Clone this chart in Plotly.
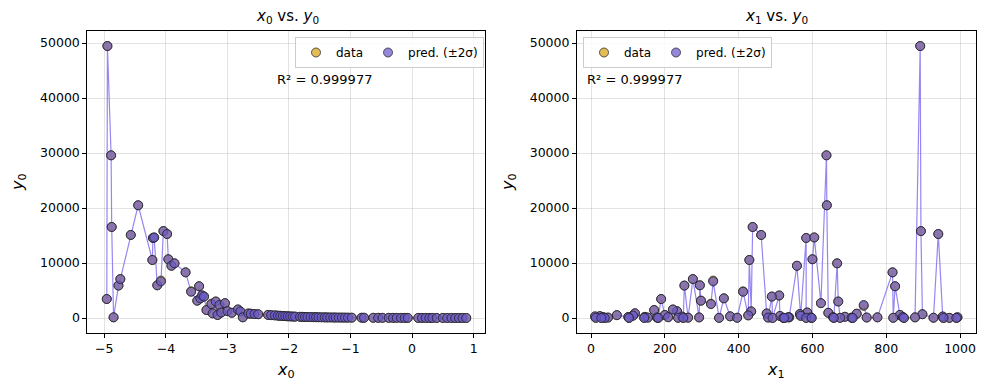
import numpy as np
import plotly.graph_objects as go

# ---- data: each sample has (x0, x1, y0) ----
mid_x0 = [-4.96, -4.95, -4.89, -4.88, -4.85, -4.77, -4.74, -4.57, -4.45, -4.22,
          -4.21, -4.19, -4.14, -4.08, -4.04, -3.98, -3.96, -3.91, -3.86, -3.68,
          -3.59, -3.46, -3.49, -3.44, -3.41, -3.38, -3.34, -3.26, -3.24, -3.19,
          -3.16, -3.13, -3.10, -3.04, -3.00, -2.93, -2.83, -2.79, -2.75, -2.66]
mid_x1 = [190, 892, 638, 438, 776, 253, 276, 461, 639, 429,
          583, 605, 295, 331, 894, 941, 600, 558, 667, 817,
          412, 824, 298, 360, 510, 490, 171, 325, 119, 670,
          200, 739, 586, 623, 233, 643, 222, 434, 537, 476]
mid_y0 = [3450, 49450, 29580, 16550, 120, 5900, 7080, 15100, 20500, 10550,
          14550, 14650, 5950, 6800, 15800, 15270, 10680, 9500, 9940, 8300,
          4850, 5780, 3150, 3580, 4100, 3900, 1450, 2600, 850, 3000,
          550, 2200, 1000, 2700, 1250, 950, 1550, 1200, 130, 820]

low_x0 = [-2.62, -2.56, -2.50, -2.34, -2.29, -2.23, -2.18, -2.14, -2.10, -2.06,
          -2.02, -1.98, -1.94, -1.90, -1.82, -1.78, -1.74, -1.70, -1.65, -1.60,
          -1.56, -1.52, -1.47, -1.42, -1.38, -1.33, -1.28, -1.24, -1.19, -1.14,
          -1.09, -1.04, -0.98, -0.82, -0.78, -0.63, -0.55, -0.48, -0.38, -0.31,
          -0.25, -0.18, -0.12, -0.07, 0.10, 0.16, 0.22, 0.28, 0.33, 0.40,
          0.50, 0.57, 0.64, 0.70, 0.76, 0.82, 0.88]
low_x1 = [720, 566, 898, 837, 70, 426, 114, 568, 512, 24,
          377, 11, 953, 247, 688, 146, 101, 845, 33, 656,
          209, 993, 534, 878, 293, 595, 179, 747, 46, 480,
          154, 706, 263, 928, 396, 819, 236, 675, 521, 13,
          971, 347, 583, 144, 492, 598, 37, 658, 250, 990,
          182, 848, 28, 524, 709, 955, 103]
low_y0 = [780, 720, 690, 560, 520, 480, 430, 400, 370, 340,
          310, 290, 270, 250, 220, 205, 190, 180, 165, 155,
          145, 135, 125, 115, 108, 100, 93, 87, 81, 76,
          71, 66, 61, 50, 47, 40, 37, 34, 30, 28,
          26, 24, 22, 21, 17, 16, 15, 14, 13, 12,
          11, 10, 9, 9, 8, 8, 7]

# small prediction deviations (sample x1 -> predicted value)
pred_override = {331: 6650, 412: 4760, 739: 2380, 325: 2520}

x0 = np.array(mid_x0 + low_x0)
x1 = np.array(mid_x1 + low_x1)
y0 = np.array(mid_y0 + low_y0, dtype=float)
y_pred = y0.copy()
for k, v in pred_override.items():
    y_pred[np.where(x1 == k)[0][0]] = v

r2_text = "R² = 0.999977"

GOLD = "rgba(218,165,32,0.75)"
PURP = "rgba(106,90,205,0.72)"
LINE = "rgba(123,104,238,0.8)"
EDGE = "rgba(30,30,30,0.9)"
FONT = "DejaVu Sans"

fig = go.Figure()

def add_panel(xv, xa, ya, leg):
    order = np.argsort(xv, kind="stable")
    fig.add_trace(go.Scatter(x=xv[order], y=y_pred[order], mode="lines",
                             line=dict(color=LINE, width=1.2), showlegend=False,
                             xaxis=xa, yaxis=ya, hoverinfo="skip"))
    fig.add_trace(go.Scatter(x=xv, y=y0, mode="markers", name="data",
                             marker=dict(size=9, color=GOLD, line=dict(color=EDGE, width=0.8)),
                             xaxis=xa, yaxis=ya, legend=leg))
    fig.add_trace(go.Scatter(x=xv, y=y_pred, mode="markers", name="pred. (±2σ)",
                             marker=dict(size=9, color=PURP, line=dict(color=EDGE, width=0.8)),
                             xaxis=xa, yaxis=ya, legend=leg))

add_panel(x0, "x", "y", "legend")
add_panel(x1, "x2", "y2", "legend2")

axis_common = dict(showline=True, mirror=True, linecolor="black", linewidth=1,
                   ticks="outside", ticklen=4, tickcolor="black", tickwidth=1,
                   showgrid=True, gridcolor="rgba(0,0,0,0.11)", gridwidth=0.8,
                   zeroline=False, tickfont=dict(family=FONT, size=12.5, color="black"))

legend_common = dict(orientation="h", xanchor="left", yanchor="top",
                     bgcolor="rgba(255,255,255,0.85)", bordercolor="#cccccc", borderwidth=1,
                     font=dict(family=FONT, size=12), itemwidth=30)

ydom = [0.1454, 0.9213]
fig.update_layout(
    width=988, height=390,
    margin=dict(l=0, r=0, t=0, b=0),
    paper_bgcolor="white", plot_bgcolor="white",
    font=dict(family=FONT, color="black"),
    xaxis=dict(domain=[0.0884, 0.4909], range=[-5.276, 1.185], dtick=1,
               anchor="y", **axis_common),
    yaxis=dict(domain=ydom, range=[-2780, 52240], dtick=10000, tickformat="d",
               anchor="x", **axis_common),
    xaxis2=dict(domain=[0.5840, 0.9874], range=[-38, 1042], dtick=200,
                anchor="y2", **axis_common),
    yaxis2=dict(domain=ydom, range=[-2780, 52240], dtick=10000, tickformat="d",
                anchor="x2", **axis_common),
    legend=dict(x=295 / 988, y=1 - 37 / 390, **legend_common),
    legend2=dict(x=583 / 988, y=1 - 37 / 390, **legend_common),
    showlegend=True,
)

ann = []
def txt(x, y, s, size, xanchor="center", **kw):
    d = dict(x=x / 988, y=1 - y / 390, xref="paper", yref="paper", text=s,
             showarrow=False, xanchor=xanchor, yanchor="middle",
             font=dict(family=FONT, size=size, color="black"))
    d.update(kw)
    ann.append(d)

txt(287, 17, "<i>x</i><sub>0</sub> vs. <i>y</i><sub>0</sub>", 15)
txt(776, 17, "<i>x</i><sub>1</sub> vs. <i>y</i><sub>0</sub>", 15)
txt(286, 370, "<i>x</i><sub>0</sub>", 16)
txt(776, 370, "<i>x</i><sub>1</sub>", 16)
txt(18, 182, "<i>y</i><sub>0</sub>", 16, textangle=-90)
txt(508, 182, "<i>y</i><sub>0</sub>", 16, textangle=-90)
txt(275, 80, r2_text, 13, xanchor="left")
txt(585, 80, r2_text, 13, xanchor="left")
fig.update_layout(annotations=ann)

fig.write_html("out.html", config={"displayModeBar": False},
               post_script="document.body.style.margin='0px';document.body.style.overflow='hidden';")
